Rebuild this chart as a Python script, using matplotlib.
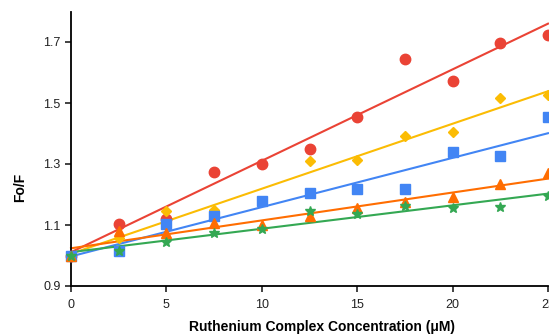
import numpy as np
import matplotlib
matplotlib.use('Agg')
from matplotlib import pyplot as plt

plt.rcParams['font.family'] = ['Liberation Sans', 'DejaVu Sans']

# concentration (uM)
conc = [0, 2.5, 5, 7.5, 10, 12.5, 15, 17.5, 20, 22.5, 25]

# Fo/F
red_y = [1.0, 1.103, 1.12, 1.275, 1.30, 1.35, 1.455, 1.645, 1.572, 1.697, 1.723]
yellow_y = [1.0, 1.057, 1.146, 1.15, 1.178, 1.311, 1.313, 1.392, 1.406, 1.515, 1.526]
blue_y = [1.0, 1.016, 1.103, 1.13, 1.178, 1.205, 1.218, 1.218, 1.34, 1.326, 1.455]
orange_y = [1.0, 1.08, 1.074, 1.107, 1.099, 1.13, 1.156, 1.175, 1.192, 1.234, 1.27]
green_y = [1.0, 1.016, 1.044, 1.074, 1.088, 1.145, 1.136, 1.162, 1.156, 1.16, 1.195]

series = [
    (red_y, '#EA4335', 'o', 7.5),
    (yellow_y, '#FBBC04', 'D', 5.5),
    (blue_y, '#4285F4', 's', 7),
    (orange_y, '#FF6D01', '^', 7.5),
    (green_y, '#34A853', '*', 7),
]

fig = plt.figure(figsize=(5.49, 3.36), dpi=100)
ax = fig.add_axes([71 / 549, 50 / 336, 477 / 549, 274.5 / 336])

x = np.array(conc)
for y, c, m, ms in series:
    # least-squares trend line per series
    k, b = np.polyfit(x, y, 1)
    xx = np.array([0, 25])
    ax.plot(xx, k * xx + b, color=c, lw=1.5, zorder=2, clip_on=False)
    ax.plot(x, y, ls='none', marker=m, color=c, ms=ms, mec=c, zorder=3, clip_on=False)

ax.set_xlim(0, 25)
ax.set_ylim(0.9, 1.8)
ax.set_xticks([0, 5, 10, 15, 20, 25])
ax.set_yticks([0.9, 1.1, 1.3, 1.5, 1.7])
ax.set_yticklabels(['0.9', '1.1', '1.3', '1.5', '1.7'])
for s in ['top', 'right']:
    ax.spines[s].set_visible(False)
for s in ['left', 'bottom']:
    ax.spines[s].set_linewidth(1.3)
ax.tick_params(direction='out', length=4, width=1.2, labelsize=9, colors='#222222')
ax.tick_params(axis='x', pad=5)

ax.set_ylabel('Fo/F', fontsize=10, fontweight='bold')
ax.yaxis.set_label_coords(-0.092, 0.36)
ax.set_xlabel('Ruthenium Complex Concentration (\u03bcM)', fontsize=10, fontweight='bold')
ax.xaxis.set_label_coords(0.527, -0.125)

plt.savefig('out.png', dpi=100)
